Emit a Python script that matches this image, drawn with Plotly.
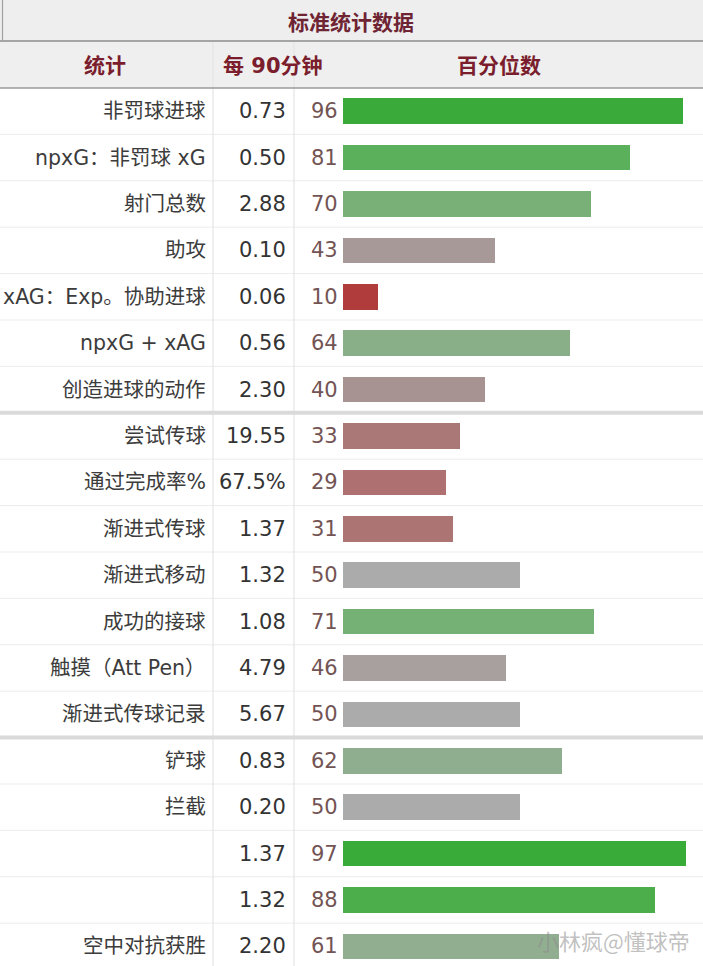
import plotly.graph_objects as go

# ---- data ----
stat_labels = [
    "非罚球进球", "npxG：非罚球 xG", "射门总数", "助攻", "xAG：Exp。协助进球",
    "npxG + xAG", "创造进球的动作",
    "尝试传球", "通过完成率%", "渐进式传球", "渐进式移动", "成功的接球",
    "触摸（Att Pen）", "渐进式传球记录",
    "铲球", "拦截", "", "", "空中对抗获胜",
]
per90_values = [
    "0.73", "0.50", "2.88", "0.10", "0.06", "0.56", "2.30",
    "19.55", "67.5%", "1.37", "1.32", "1.08", "4.79", "5.67",
    "0.83", "0.20", "1.37", "1.32", "2.20",
]
percentiles = [96, 81, 70, 43, 10, 64, 40, 33, 29, 31, 50, 71, 46, 50, 62, 50, 97, 88, 61]
section_breaks = [7, 14]  # rows after which a thick separator is drawn

title_text = "标准统计数据"
header_texts = ["统计", "每 90分钟", "百分位数"]
watermark = "小林疯@懂球帝"

# ---- geometry / style ----
W, H = 703, 966
ROW_PX = 46.4
TOP_PX = 88.0
y_top = -0.5 - TOP_PX / ROW_PX
y_bot = -0.5 + (H - TOP_PX) / ROW_PX
BAR_X0 = 343.0
PX_PER_UNIT = 3.54
x_left = -BAR_X0 / PX_PER_UNIT
x_right = (W - BAR_X0) / PX_PER_UNIT

def py(p):
    return -0.5 + (p - TOP_PX) / ROW_PX

def px(p):
    return p / W

colorscale = [
    [0.00, "#b02020"], [0.10, "#b03c3c"], [0.29, "#ae7070"], [0.33, "#ab7878"],
    [0.40, "#a89393"], [0.46, "#a89f9f"], [0.50, "#ababab"], [0.62, "#8fae8f"],
    [0.70, "#78b078"], [0.81, "#5bb05b"], [0.88, "#4bae4b"], [0.96, "#3aab3a"],
    [1.00, "#33aa33"],
]

rows = list(range(len(stat_labels)))

fig = go.Figure()
fig.add_trace(go.Bar(
    x=percentiles, y=rows, orientation="h", base=0,
    width=0.55,
    marker=dict(color=percentiles, colorscale=colorscale, cmin=0, cmax=100,
                line=dict(width=0)),
    hoverinfo="skip", showlegend=False,
))

shapes = []
shapes.append(dict(type="rect", xref="paper", yref="y", x0=0, x1=1,
                   y0=y_top, y1=py(41), fillcolor="#eeeeee", line_width=0, layer="below"))
shapes.append(dict(type="rect", xref="paper", yref="y", x0=0, x1=1,
                   y0=py(41), y1=py(88), fillcolor="#efefef", line_width=0, layer="below"))
for i in range(1, len(rows)):
    if i in section_breaks:
        continue
    shapes.append(dict(type="line", xref="paper", yref="y", x0=0, x1=1,
                       y0=i - 0.5, y1=i - 0.5, line=dict(color="#ececec", width=1),
                       layer="below"))
for xp in [213, 294]:
    shapes.append(dict(type="line", xref="paper", yref="y", x0=px(xp), x1=px(xp),
                       y0=py(42), y1=y_bot, line=dict(color="#e4e4e4", width=1.2),
                       layer="below"))
for b in section_breaks:
    shapes.append(dict(type="line", xref="paper", yref="y", x0=0, x1=1,
                       y0=b - 0.5, y1=b - 0.5, line=dict(color="#dadada", width=4)))
shapes.append(dict(type="line", xref="paper", yref="y", x0=0, x1=1,
                   y0=py(41), y1=py(41), line=dict(color="#8c8c8c", width=1.5)))
shapes.append(dict(type="line", xref="paper", yref="y", x0=0, x1=1,
                   y0=py(88), y1=py(88), line=dict(color="#9a9a9a", width=1.5)))
shapes.append(dict(type="line", xref="paper", yref="y", x0=px(2.5), x1=px(2.5),
                   y0=y_top, y1=py(41), line=dict(color="#a0a0a0", width=1.2)))

cjk = "DejaVu Sans, Noto Sans CJK SC, sans-serif"
annotations = []
annotations.append(dict(text=title_text, xref="paper", yref="y", x=px(351), y=py(21),
                        xanchor="center", yanchor="middle", showarrow=False,
                        font=dict(family="Noto Sans CJK SC", size=21, color="#6e2433",
                                  weight="bold")))
for t, xc in zip(header_texts, [105, 273, 499]):
    annotations.append(dict(text=t, xref="paper", yref="y", x=px(xc), y=py(66),
                            xanchor="center", yanchor="middle", showarrow=False,
                            font=dict(family="DejaVu Sans, Noto Sans CJK SC", size=21,
                                      color="#7a1d2c", weight="bold")))
for i in rows:
    annotations.append(dict(text=stat_labels[i], xref="paper", yref="y", x=px(208), y=i,
                            xanchor="right", yanchor="middle", showarrow=False,
                            font=dict(family=cjk, size=20.5, color="#3c3c3c")))
    annotations.append(dict(text=per90_values[i], xref="paper", yref="y", x=px(288), y=i,
                            xanchor="right", yanchor="middle", showarrow=False,
                            font=dict(family=cjk, size=21, color="#333333")))
    annotations.append(dict(text=str(percentiles[i]), xref="paper", yref="y", x=px(309), y=i,
                            xanchor="left", yanchor="middle", showarrow=False,
                            font=dict(family=cjk, size=21, color="#735454")))
annotations.append(dict(text=watermark, xref="paper", yref="y", x=px(692), y=py(940),
                        xanchor="right", yanchor="middle", showarrow=False,
                        font=dict(family="Noto Sans CJK SC", size=22,
                                  color="rgba(140,140,140,0.55)")))

fig.update_layout(
    width=W, height=H,
    margin=dict(l=0, r=0, t=0, b=0),
    paper_bgcolor="white", plot_bgcolor="white",
    shapes=shapes, annotations=annotations,
    xaxis=dict(range=[x_left, x_right], visible=False, fixedrange=True),
    yaxis=dict(range=[y_bot, y_top], visible=False, fixedrange=True),
    bargap=0,
)

fig.write_html(
    "out.html",
    config={"displayModeBar": False},
    post_script="document.body.style.margin='0';document.body.style.overflow='hidden';",
)
